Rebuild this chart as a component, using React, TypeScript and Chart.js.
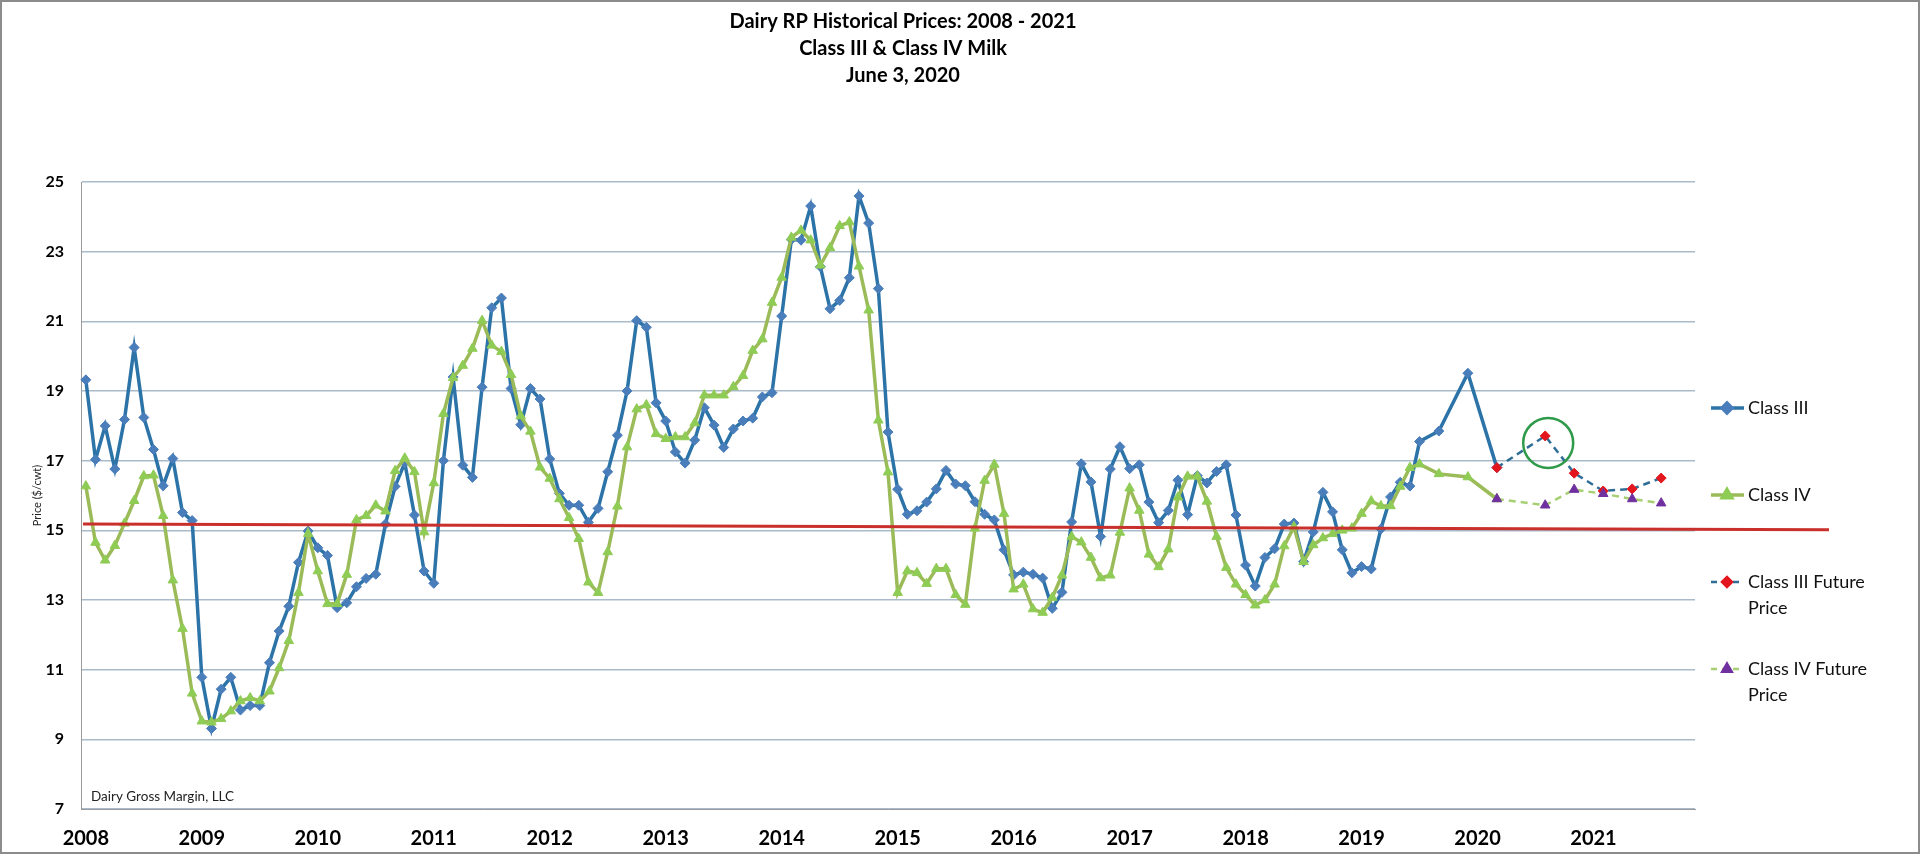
import { useEffect, useRef } from 'react';
import { Chart, registerables } from 'chart.js';
import { drawPoint } from 'chart.js/helpers';

Chart.register(...registerables);

// categories: one per month, Jan 2008 .. Nov 2021
const YEARS = ['2008', '2009', '2010', '2011', '2012', '2013', '2014', '2015', '2016', '2017', '2018', '2019', '2020', '2021'];
const LAST_MONTH = '2021-11';

const Y_TICKS = [7, 9, 11, 13, 15, 17, 19, 21, 23, 25];

// monthly prices, Jan 2008 .. Jul 2019
const CLASS_III_MONTHLY = [
  19.32, 17.03, 18.0, 16.76, 18.18, 20.25, 18.24, 17.32, 16.28, 17.06, 15.51, 15.28,
  10.78, 9.31, 10.44, 10.78, 9.84, 9.97, 9.97, 11.2, 12.11, 12.82, 14.08, 14.98,
  14.5, 14.28, 12.78, 12.92, 13.38, 13.62, 13.74, 15.18, 16.26, 16.94, 15.44, 13.83,
  13.48, 17.0, 19.4, 16.87, 16.52, 19.11, 21.39, 21.67, 19.07, 18.03, 19.07, 18.77,
  17.05, 16.06, 15.72, 15.72, 15.23, 15.63, 16.68, 17.73, 19.0, 21.02, 20.83, 18.66,
  18.14, 17.25, 16.93, 17.59, 18.52, 18.02, 17.38, 17.91, 18.14, 18.22, 18.83, 18.95,
  21.15, 23.35, 23.33, 24.31, 22.57, 21.36, 21.6, 22.25, 24.6, 23.82, 21.94, 17.82,
  16.18, 15.46, 15.56, 15.81, 16.19, 16.72, 16.33, 16.28, 15.82, 15.46, 15.3, 14.44,
  13.72, 13.8, 13.74, 13.63, 12.76, 13.22, 15.24, 16.91, 16.39, 14.82, 16.76, 17.4,
  16.77, 16.88, 15.81, 15.22, 15.57, 16.44, 15.45, 16.57, 16.36, 16.69, 16.88, 15.44,
  14.0, 13.4, 14.22, 14.47, 15.18, 15.21, 14.1, 14.95, 16.09, 15.53, 14.44, 13.78,
  13.96, 13.89, 15.04, 15.96, 16.38, 16.27, 17.55,
];

const CLASS_IV_MONTHLY = [
  16.27, 14.65, 14.14, 14.56, 15.2, 15.85, 16.56, 16.58, 15.42, 13.57, 12.18, 10.32,
  9.52, 9.49, 9.59, 9.81, 10.1, 10.19, 10.1, 10.38, 11.05, 11.83, 13.21, 14.9,
  13.83, 12.89, 12.89, 13.73, 15.3, 15.42, 15.72, 15.55, 16.71, 17.07, 16.68, 14.95,
  16.36, 18.35, 19.38, 19.73, 20.22, 21.02, 20.31, 20.13, 19.47, 18.28, 17.84, 16.81,
  16.49, 15.9, 15.36, 14.76, 13.51, 13.21, 14.38, 15.69, 17.39, 18.48, 18.6, 17.77,
  17.63, 17.68, 17.68, 18.08, 18.88, 18.88, 18.88, 19.12, 19.44, 20.16, 20.49, 21.54,
  22.26, 23.41, 23.61, 23.33, 22.61, 23.11, 23.74, 23.85, 22.58, 21.32, 18.16, 16.67,
  13.21, 13.83, 13.78, 13.47, 13.9, 13.9, 13.15, 12.87, 15.06, 16.43, 16.89, 15.48,
  13.31, 13.45, 12.74, 12.64, 13.07, 13.71, 14.82, 14.66, 14.22, 13.63, 13.71, 14.94,
  16.21, 15.57, 14.31, 13.95, 14.46, 15.95, 16.55, 16.55, 15.83, 14.82, 13.93, 13.45,
  13.15, 12.85, 13.0, 13.45, 14.55, 15.1, 14.1, 14.58, 14.78, 14.9, 15.0, 15.06,
  15.48, 15.84, 15.7, 15.7, 16.26, 16.8, 16.9,
];

// quarterly averages after mid 2019
const QUARTER_MONTHS = ['2019-09', '2019-12', '2020-03'];
const CLASS_III_QUARTERLY = [17.85, 19.51, 16.8];
const CLASS_IV_QUARTERLY = [16.62, 16.53, 15.9];

// futures
const FUTURE_MONTHS = ['2020-03', '2020-08', '2020-11', '2021-02', '2021-05', '2021-08'];
const CLASS_III_FUTURE = [16.8, 17.71, 16.64, 16.13, 16.19, 16.5];
const CLASS_IV_FUTURE = [15.9, 15.72, 16.17, 16.05, 15.9, 15.78];

// hand drawn red reference line (value at left end, value at right end)
const REF_LINE = [15.18, 15.02];
const HIGHLIGHT_MONTH = '2020-08';

const TITLE_LINES = ['Dairy RP Historical Prices: 2008 - 2021', 'Class III & Class IV Milk', 'June 3, 2020'];

const MONTHS: string[] = [];
for (const y of YEARS) {
  for (let m = 1; m <= 12; m++) {
    const key = `${y}-${String(m).padStart(2, '0')}`;
    MONTHS.push(key);
    if (key === LAST_MONTH) break;
  }
}

const monthly = (vals: number[]) => vals.map((v, i) => ({ x: MONTHS[i], y: v }));
const atMonths = (months: string[], vals: number[]) => months.map((m, i) => ({ x: m, y: vals[i] }));

const FONT = 'Lato, "Open Sans", sans-serif';

function wrap(ctx: CanvasRenderingContext2D, text: string, maxWidth: number) {
  const words = text.split(' ');
  const lines: string[] = [];
  let cur = '';
  for (const w of words) {
    const test = cur ? cur + ' ' + w : w;
    if (cur && ctx.measureText(test).width > maxWidth) {
      lines.push(cur);
      cur = w;
    } else {
      cur = test;
    }
  }
  if (cur) lines.push(cur);
  return lines;
}

const overlayPlugin = {
  id: 'overlay',
  afterDatasetsDraw(chart: any) {
    const { ctx, chartArea, scales } = chart;
    const y = scales.y;
    // red reference line, runs past the plot into the legend area
    ctx.save();
    ctx.strokeStyle = '#C9302C';
    ctx.lineWidth = 3;
    ctx.beginPath();
    ctx.moveTo(chartArea.left + 2, y.getPixelForValue(REF_LINE[0]));
    ctx.lineTo(chartArea.right + 134, y.getPixelForValue(REF_LINE[1]));
    ctx.stroke();

    // green circle round the highlighted future point
    const idx = FUTURE_MONTHS.indexOf(HIGHLIGHT_MONTH);
    const pt = chart.getDatasetMeta(2).data[idx];
    if (pt) {
      ctx.strokeStyle = '#2F9A4A';
      ctx.lineWidth = 2.5;
      ctx.beginPath();
      ctx.arc(pt.x + 3, pt.y + 7, 25, 0, Math.PI * 2);
      ctx.stroke();
    }
    ctx.restore();
  },
  afterDraw(chart: any) {
    const { ctx, chartArea, width, height } = chart;
    ctx.save();

    // title
    ctx.fillStyle = '#000';
    ctx.textAlign = 'center';
    ctx.textBaseline = 'middle';
    ctx.font = `bold 20px ${FONT}`;
    TITLE_LINES.forEach((t, i) => ctx.fillText(t, 903, 22 + i * 27));

    // axis title
    ctx.save();
    ctx.translate(37, (chartArea.top + chartArea.bottom) / 2);
    ctx.rotate(-Math.PI / 2);
    ctx.font = `11px ${FONT}`;
    ctx.fillStyle = '#222';
    ctx.fillText('Price ($/cwt)', 0, 0);
    ctx.restore();

    // source note
    ctx.textAlign = 'left';
    ctx.font = `13.5px ${FONT}`;
    ctx.fillStyle = '#222';
    ctx.fillText('Dairy Gross Margin, LLC', chartArea.left + 10, chartArea.bottom - 12);

    // legend
    const lx = chartArea.right + 16;
    ctx.font = `18px ${FONT}`;
    chart.data.datasets.forEach((d: any, i: number) => {
      const ly = chartArea.top + 226 + i * 87;
      ctx.save();
      ctx.strokeStyle = d.borderColor;
      ctx.lineWidth = d.borderWidth;
      ctx.setLineDash(d.borderDash && d.borderDash.length ? [6, 5] : []);
      ctx.beginPath();
      ctx.moveTo(lx, ly);
      ctx.lineTo(lx + 33, ly);
      ctx.stroke();
      ctx.setLineDash([]);
      ctx.fillStyle = d.pointBackgroundColor;
      ctx.strokeStyle = d.pointBorderColor;
      drawPoint(ctx, { pointStyle: d.pointStyle, radius: d.pointRadius, borderWidth: 1, rotation: 0 }, lx + 16, ly);
      ctx.restore();
      ctx.fillStyle = '#111';
      ctx.textBaseline = 'middle';
      wrap(ctx, d.label, 140).forEach((t, j) => ctx.fillText(t, lx + 37, ly + j * 26));
    });

    // outer frame
    ctx.strokeStyle = '#8C8C8C';
    ctx.lineWidth = 2;
    ctx.strokeRect(1, 1, width - 2, height - 2);
    ctx.restore();
  },
};

export default function App() {
  const canvasRef = useRef<HTMLCanvasElement>(null);
  const chartRef = useRef<Chart | null>(null);

  useEffect(() => {
    document.body.style.margin = '0';
    if (!canvasRef.current) return;
    if (chartRef.current) chartRef.current.destroy();

    chartRef.current = new Chart(canvasRef.current, {
      type: 'line',
      data: {
        labels: MONTHS,
        datasets: [
          {
            label: 'Class III',
            data: [...monthly(CLASS_III_MONTHLY), ...atMonths(QUARTER_MONTHS, CLASS_III_QUARTERLY)],
            borderColor: '#2C73A8',
            borderWidth: 3.5,
            pointStyle: 'rectRot',
            pointRadius: 5,
            pointBackgroundColor: '#4A7EBB',
            pointBorderColor: '#4A7EBB',
            pointBorderWidth: 1,
            tension: 0,
            order: 4,
          },
          {
            label: 'Class IV',
            data: [...monthly(CLASS_IV_MONTHLY), ...atMonths(QUARTER_MONTHS, CLASS_IV_QUARTERLY)],
            borderColor: '#9BBB59',
            borderWidth: 3.5,
            pointStyle: 'triangle',
            pointRadius: 5.5,
            pointBackgroundColor: '#8FCC55',
            pointBorderColor: '#8FCC55',
            pointBorderWidth: 1,
            tension: 0,
            order: 3,
          },
          {
            label: 'Class III Future Price',
            data: atMonths(FUTURE_MONTHS, CLASS_III_FUTURE),
            borderColor: '#2E6E96',
            borderWidth: 2.5,
            borderDash: [7, 5],
            pointStyle: 'rectRot',
            pointRadius: 5,
            pointBackgroundColor: '#E3161D',
            pointBorderColor: '#E3161D',
            pointBorderWidth: 1,
            tension: 0,
            order: 2,
          },
          {
            label: 'Class IV Future Price',
            data: atMonths(FUTURE_MONTHS, CLASS_IV_FUTURE),
            borderColor: '#A6CF72',
            borderWidth: 2.5,
            borderDash: [7, 5],
            pointStyle: 'triangle',
            pointRadius: 5.5,
            pointBackgroundColor: '#7030A0',
            pointBorderColor: '#7030A0',
            pointBorderWidth: 1,
            tension: 0,
            order: 1,
          },
        ],
      },
      options: {
        animation: false,
        responsive: true,
        maintainAspectRatio: false,
        layout: { padding: { top: 182, right: 225, bottom: 0, left: 0 } },
        plugins: {
          legend: { display: false },
          tooltip: { enabled: false },
          title: { display: false },
        },
        scales: {
          x: {
            type: 'category',
            offset: true,
            grid: { display: false },
            border: { display: true, color: '#9A9A9A', width: 1 },
            afterFit: (s: any) => {
              s.height = 45;
            },
            ticks: {
              autoSkip: false,
              maxRotation: 0,
              minRotation: 0,
              padding: 10,
              color: '#000',
              font: { family: FONT, size: 20, weight: 'bold' },
              callback: (value: any) => {
                const lab = MONTHS[value as number];
                return lab && lab.endsWith('-01') ? lab.slice(0, 4) : '';
              },
            },
          },
          y: {
            min: Y_TICKS[0],
            max: Y_TICKS[Y_TICKS.length - 1],
            afterFit: (s: any) => {
              s.width = 81;
            },
            afterBuildTicks: (s: any) => {
              s.ticks = Y_TICKS.map((v) => ({ value: v }));
            },
            grid: { color: '#A9BACA', lineWidth: 1.5, drawTicks: false },
            border: { display: true, color: '#9A9A9A', width: 1 },
            ticks: {
              padding: 17,
              color: '#000',
              font: { family: FONT, size: 16, weight: 'bold' },
            },
          },
        },
      },
      plugins: [overlayPlugin],
    });

    return () => {
      if (chartRef.current) {
        chartRef.current.destroy();
        chartRef.current = null;
      }
    };
  }, []);

  return (
    <div style={{ width: 1920, height: 854, position: 'relative', background: '#fff' }}>
      <canvas ref={canvasRef}></canvas>
    </div>
  );
}
